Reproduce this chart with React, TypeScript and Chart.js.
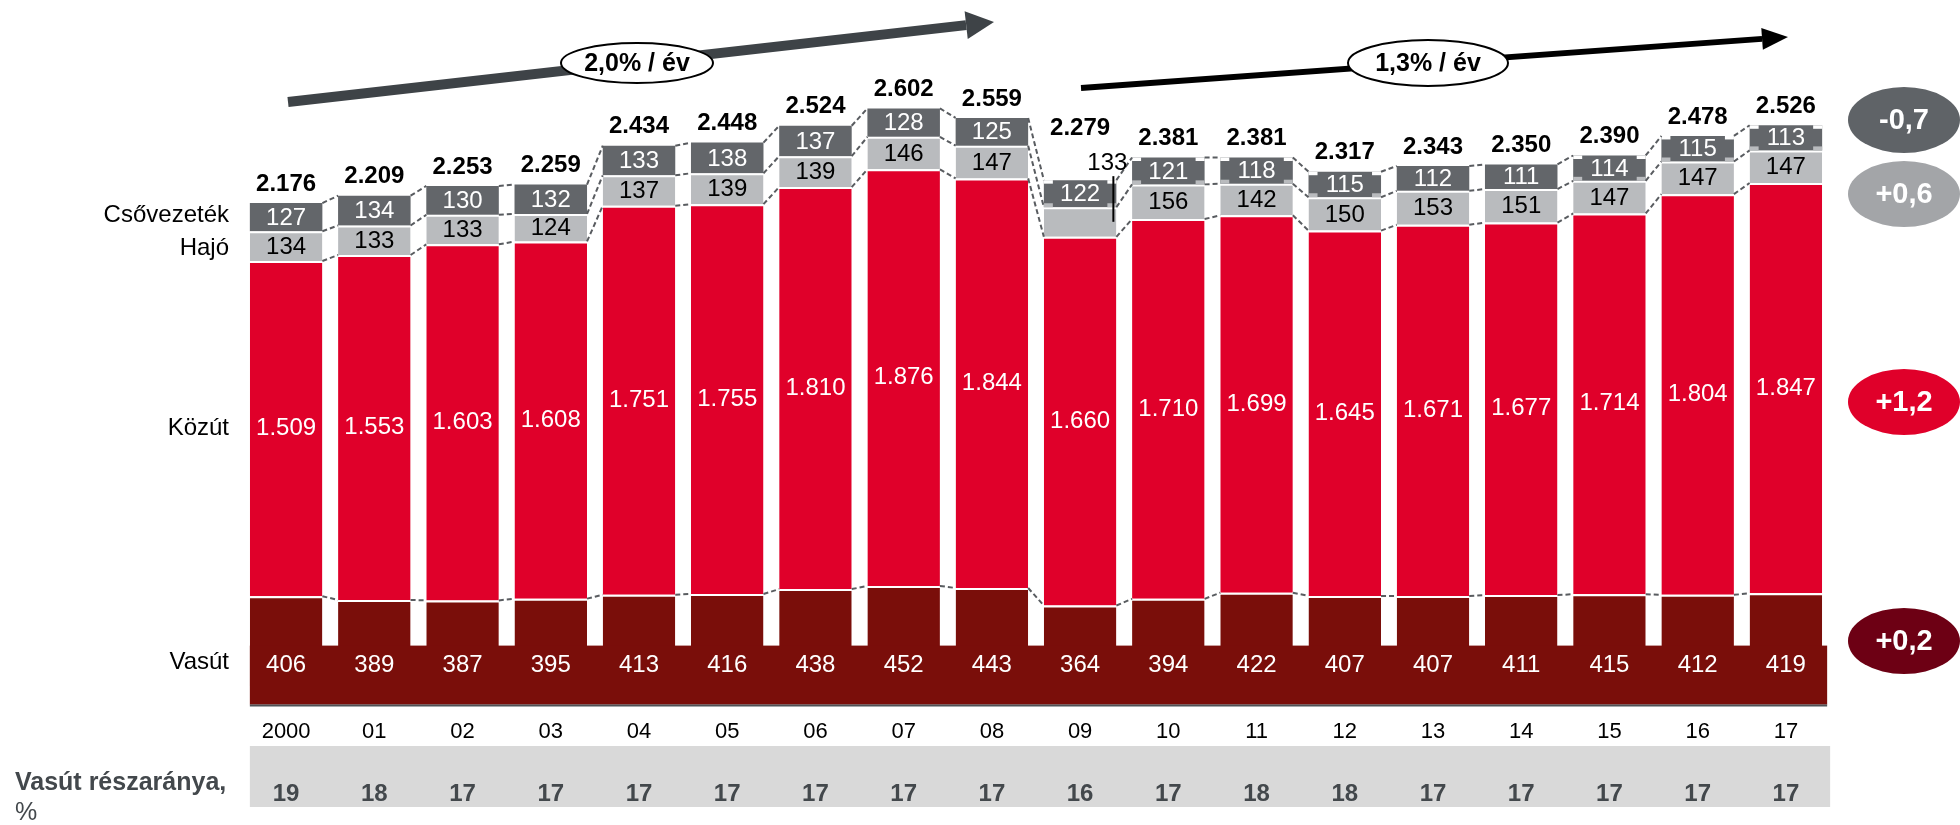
import React, { useEffect, useRef } from 'react';
import { Chart, registerables } from 'chart.js';

Chart.register(...registerables);

// ---------- data ----------
const YEARS = ['2000', '01', '02', '03', '04', '05', '06', '07', '08', '09', '10', '11', '12', '13', '14', '15', '16', '17'];
const VASUT = [406, 389, 387, 395, 413, 416, 438, 452, 443, 364, 394, 422, 407, 407, 411, 415, 412, 419];
const KOZUT = [1509, 1553, 1603, 1608, 1751, 1755, 1810, 1876, 1844, 1660, 1710, 1699, 1645, 1671, 1677, 1714, 1804, 1847];
const HAJO = [134, 133, 133, 124, 137, 139, 139, 146, 147, 133, 156, 142, 150, 153, 151, 147, 147, 147];
const CSO = [127, 134, 130, 132, 133, 138, 137, 128, 125, 122, 121, 118, 115, 112, 111, 114, 115, 113];
const TOTALS = [2176, 2209, 2253, 2259, 2434, 2448, 2524, 2602, 2559, 2279, 2381, 2381, 2317, 2343, 2350, 2390, 2478, 2526];
const SHARE = [19, 18, 17, 17, 17, 17, 17, 17, 17, 16, 17, 18, 18, 17, 17, 17, 17, 17];
const SERIES_NAMES = ['Vasút', 'Közút', 'Hajó', 'Csővezeték'];
const TRENDS = ['2,0% / év', '1,3% / év'];
const BADGES = ['-0,7', '+0,6', '+1,2', '+0,2'];
const SHARE_TITLE = ['Vasút részaránya,', '%'];
const NOTCHED = ['09', '10', '11', '12', '15', '16', '17'];
const OUTSIDE_HAJO = '09';

const COLORS = { vasut: '#7a0e0a', kozut: '#e0002a', hajo: '#b9bbbe', cso: '#63666a' };
const BADGE_COLORS = ['#5f6367', '#a3a5a8', '#e0002a', '#6d0014'];
const FONT = '"Liberation Sans", Arial, sans-serif';

const fmt = (v: number) => (v >= 1000 ? `${Math.floor(v / 1000)}.${String(v % 1000).padStart(3, '0')}` : String(v));

const decor = {
  id: 'decor',
  afterDatasetsDraw(chart: any) {
    const ctx: CanvasRenderingContext2D = chart.ctx;
    const ca = chart.chartArea;
    const n = YEARS.length;
    const bar = (d: number, j: number) => {
      const el = chart.getDatasetMeta(d).data[j];
      return { x: el.x, w: el.width, top: el.y, base: el.base, l: el.x - el.width / 2, r: el.x + el.width / 2 };
    };
    const line = (x1: number, y1: number, x2: number, y2: number) => {
      ctx.beginPath();
      ctx.moveTo(x1, y1);
      ctx.lineTo(x2, y2);
      ctx.stroke();
    };
    const text = (t: string, x: number, y: number, size: number, color: string, bold = false, align: CanvasTextAlign = 'center') => {
      ctx.font = `${bold ? 'bold ' : ''}${size}px ${FONT}`;
      ctx.fillStyle = color;
      ctx.textAlign = align;
      ctx.textBaseline = 'middle';
      ctx.fillText(t, x, y);
    };
    ctx.save();
    const first = bar(0, 0);
    const last = bar(0, n - 1);

    // continuous rail band at the bottom
    const bandTop = ca.bottom - 59;
    ctx.fillStyle = COLORS.vasut;
    ctx.fillRect(first.l, bandTop, last.r + 5 - first.l, ca.bottom - bandTop);
    ctx.strokeStyle = '#4f5256';
    ctx.lineWidth = 2;
    line(first.l, ca.bottom + 1, last.r + 5, ca.bottom + 1);

    // notched pipeline blocks
    for (let j = 0; j < n; j++) {
      if (!NOTCHED.includes(YEARS[j])) continue;
      const b = bar(3, j);
      ctx.fillStyle = '#ffffff';
      ctx.fillRect(b.l, b.top, 9, 3.5);
      ctx.fillRect(b.r - 9, b.top, 9, 3.5);
      ctx.fillStyle = COLORS.hajo;
      ctx.fillRect(b.l, b.base - 4, 9, 4);
      ctx.fillRect(b.r - 9, b.base - 4, 9, 4);
    }

    // dashed connectors
    ctx.setLineDash([5, 3]);
    ctx.strokeStyle = '#595c60';
    ctx.lineWidth = 2;
    for (let j = 0; j < n - 1; j++) {
      for (let d = 0; d < 4; d++) {
        const a = bar(d, j);
        const b = bar(d, j + 1);
        line(a.r, a.top, b.l, b.top);
      }
    }
    ctx.setLineDash([]);

    // segment labels
    for (let j = 0; j < n; j++) {
      const v = bar(0, j);
      text(fmt(VASUT[j]), v.x, 665, 24, '#ffffff');
      const k = bar(1, j);
      text(fmt(KOZUT[j]), k.x, (k.top + k.base) / 2, 24, '#ffffff');
      const h = bar(2, j);
      const c = bar(3, j);
      if (YEARS[j] === OUTSIDE_HAJO) {
        text(fmt(HAJO[j]), h.r - 9, c.top - 17, 24, '#000000');
        ctx.strokeStyle = '#000000';
        ctx.lineWidth = 2;
        line(h.r - 3, c.top - 4, h.r - 3, h.base - 15);
      } else {
        text(fmt(HAJO[j]), h.x, (h.top + h.base) / 2 + 1, 24, '#000000');
      }
      text(fmt(CSO[j]), c.x, (c.top + c.base) / 2 + 1, 24, '#ffffff');
      text(fmt(TOTALS[j]), c.x, c.top - (YEARS[j] === OUTSIDE_HAJO ? 52 : 19), 24, '#000000', true);
    }

    // series names on the left
    const b0 = [bar(0, 0), bar(1, 0), bar(2, 0), bar(3, 0)];
    const nameX = 229;
    text(SERIES_NAMES[3], nameX, (b0[3].top + b0[3].base) / 2 - 2, 24, '#000000', false, 'right');
    text(SERIES_NAMES[2], nameX, (b0[2].top + b0[2].base) / 2 + 2, 24, '#000000', false, 'right');
    text(SERIES_NAMES[1], nameX, (b0[1].top + b0[1].base) / 2, 24, '#000000', false, 'right');
    text(SERIES_NAMES[0], nameX, 662, 24, '#000000', false, 'right');

    // share row
    ctx.fillStyle = '#d9d9d9';
    ctx.fillRect(first.l, 746, last.r + 8 - first.l, 61);
    for (let j = 0; j < n; j++) {
      text(String(SHARE[j]), bar(0, j).x, 794, 24, '#43484c', true);
    }
    text(SHARE_TITLE[0], 15, 783, 25, '#43484c', true, 'left');
    text(SHARE_TITLE[1], 15, 813, 25, '#43484c', false, 'left');

    // trend arrows
    const arrow = (x1: number, y1: number, x2: number, y2: number, w: number, head: number, hw: number, color: string) => {
      const ang = Math.atan2(y2 - y1, x2 - x1);
      const bx = x2 - Math.cos(ang) * head;
      const by = y2 - Math.sin(ang) * head;
      ctx.strokeStyle = color;
      ctx.lineWidth = w;
      ctx.lineCap = 'butt';
      line(x1, y1, bx, by);
      ctx.fillStyle = color;
      ctx.beginPath();
      ctx.moveTo(x2, y2);
      ctx.lineTo(bx + Math.sin(ang) * hw, by - Math.cos(ang) * hw);
      ctx.lineTo(bx - Math.sin(ang) * hw, by + Math.cos(ang) * hw);
      ctx.closePath();
      ctx.fill();
    };
    arrow(288, 102, 994, 22, 10, 28, 14, '#3e4347');
    arrow(1081, 88, 1788, 37, 6, 26, 11, '#000000');
    const pill = (cx: number, cy: number, rx: number, ry: number, t: string) => {
      ctx.beginPath();
      ctx.ellipse(cx, cy, rx, ry, 0, 0, Math.PI * 2);
      ctx.fillStyle = '#ffffff';
      ctx.fill();
      ctx.strokeStyle = '#000000';
      ctx.lineWidth = 2;
      ctx.stroke();
      text(t, cx, cy + 1, 25, '#000000', true);
    };
    pill(637, 63, 76, 20, TRENDS[0]);
    pill(1428, 63, 80, 23, TRENDS[1]);

    // change badges
    const badgeY = [120, 194, 402, 641];
    for (let i = 0; i < 4; i++) {
      ctx.beginPath();
      ctx.ellipse(1904, badgeY[i], 56, 33, 0, 0, Math.PI * 2);
      ctx.fillStyle = BADGE_COLORS[i];
      ctx.fill();
      text(BADGES[i], 1904, badgeY[i] + 1, 29, '#ffffff', true);
    }
    ctx.restore();
  },
};

export default function App() {
  const ref = useRef<HTMLCanvasElement>(null);
  useEffect(() => {
    const border = { top: 2, right: 0, bottom: 0, left: 0 };
    const chart = new Chart(ref.current as HTMLCanvasElement, {
      type: 'bar',
      data: {
        labels: YEARS,
        datasets: [
          { label: SERIES_NAMES[0], data: VASUT, backgroundColor: COLORS.vasut, borderColor: '#ffffff', borderWidth: border },
          { label: SERIES_NAMES[1], data: KOZUT, backgroundColor: COLORS.kozut, borderColor: '#ffffff', borderWidth: border },
          { label: SERIES_NAMES[2], data: HAJO, backgroundColor: COLORS.hajo, borderColor: '#ffffff', borderWidth: border },
          { label: SERIES_NAMES[3], data: CSO, backgroundColor: COLORS.cso, borderWidth: 0 },
        ],
      },
      options: {
        animation: false,
        responsive: false,
        maintainAspectRatio: false,
        layout: { padding: { left: 242, right: 130, top: 20, bottom: 66 } },
        datasets: { bar: { categoryPercentage: 1, barPercentage: 0.822 } },
        plugins: { legend: { display: false }, tooltip: { enabled: false } },
        scales: {
          x: {
            stacked: true,
            grid: { display: false, drawTicks: false },
            border: { display: false },
            ticks: { font: { family: FONT, size: 22 }, color: '#000000', padding: 14 },
          },
          y: { stacked: true, display: false, min: -82, max: 3000 },
        },
      } as any,
      plugins: [decor],
    });
    return () => chart.destroy();
  }, []);
  return (
    <div style={{ position: 'absolute', left: 0, top: 0, width: 1960, height: 825, background: '#ffffff' }}>
      <canvas ref={ref} width={1960} height={825} style={{ display: 'block', width: 1960, height: 825 }} />
    </div>
  );
}
